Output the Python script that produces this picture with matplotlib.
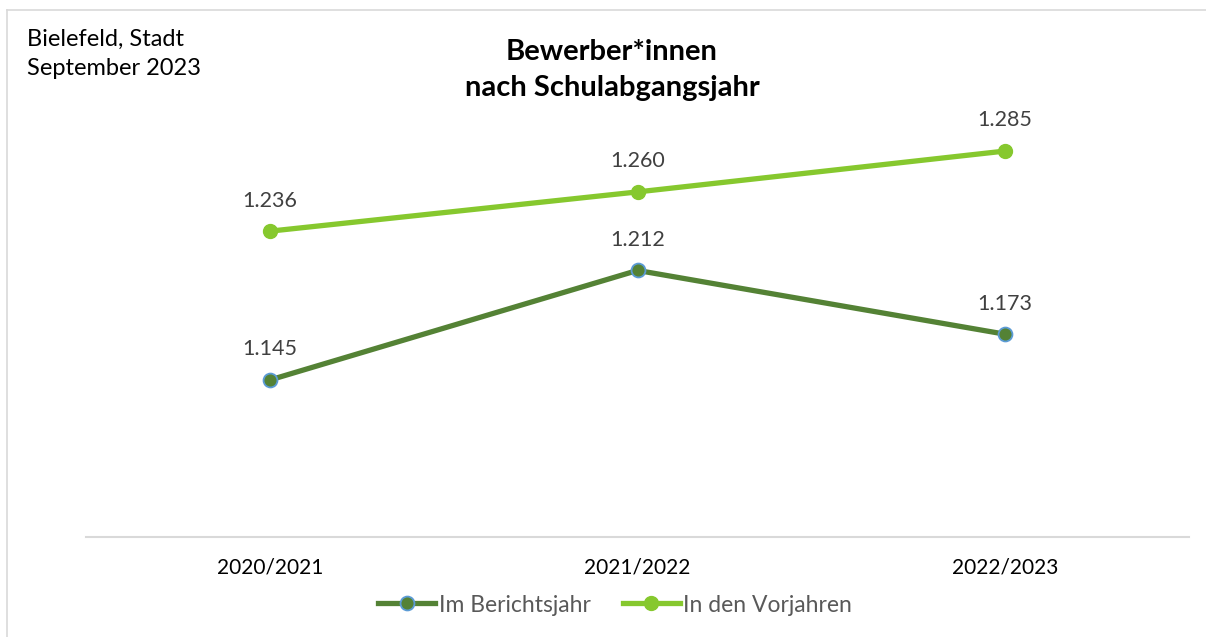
import matplotlib
matplotlib.use("Agg")
import matplotlib.pyplot as plt
from matplotlib.lines import Line2D

categories = ["2020/2021", "2021/2022", "2022/2023"]
berichtsjahr = [1145, 1212, 1173]
vorjahre = [1236, 1260, 1285]
series_names = ["Im Berichtsjahr", "In den Vorjahren"]

plt.rcParams['font.family'] = ['Lato', 'DejaVu Sans']

W, H = 1206, 637
fig = plt.figure(figsize=(W/100, H/100), dpi=100)
fig.patch.set_facecolor("white")

# border lines (top and left)
fig.add_artist(Line2D([7/W, 1], [1-10/H, 1-10/H], color="#D9D9D9", lw=1.2, transform=fig.transFigure))
fig.add_artist(Line2D([7/W, 7/W], [0, 1-10/H], color="#D9D9D9", lw=1.2, transform=fig.transFigure))

ax = fig.add_axes([86/W, (H-537)/H, (1189-86)/W, (537-126.5)/H])
x = list(range(len(categories)))
dark = "#548235"
light = "#86C82E"
ax.plot(x, berichtsjahr, color=dark, lw=3.8, marker="o", markersize=10,
        markerfacecolor=dark, markeredgecolor="#5B9BD5", markeredgewidth=1.3, solid_capstyle="round")
ax.plot(x, vorjahre, color=light, lw=3.8, marker="o", markersize=10,
        markerfacecolor=light, markeredgecolor=light, solid_capstyle="round")

for xi, v in zip(x, berichtsjahr):
    ax.annotate(f"{v/1000:.3f}", (xi, v), xytext=(0, 22), textcoords="offset points",
                ha="center", va="center", fontsize=15.5, color="#404040")
for xi, v in zip(x, vorjahre):
    ax.annotate(f"{v/1000:.3f}", (xi, v), xytext=(0, 22), textcoords="offset points",
                ha="center", va="center", fontsize=15.5, color="#404040")

ax.set_xlim(-0.5, 2.5)
ax.set_ylim(1049, 1300)
ax.set_xticks(x)
ax.set_xticklabels(categories, fontsize=15, color="#000000")
ax.tick_params(axis="x", length=0, pad=15)
ax.set_yticks([])
for s in ["top", "right", "left"]:
    ax.spines[s].set_visible(False)
ax.spines["bottom"].set_color("#D9D9D9")
ax.spines["bottom"].set_linewidth(1.5)

fig.text(612/W, 1-70/H, "Bewerber*innen\nnach Schulabgangsjahr", ha="center", va="center",
         fontsize=21, fontweight="bold", linespacing=1.45)
fig.text(27/W, 1-54/H, "Bielefeld, Stadt\nSeptember 2023", ha="left", va="center",
         fontsize=17, linespacing=1.45)

handles = [
    Line2D([], [], color=dark, lw=3.8, marker="o", markersize=10, markerfacecolor=dark,
           markeredgecolor="#5B9BD5", markeredgewidth=1.3),
    Line2D([], [], color=light, lw=3.8, marker="o", markersize=10, markerfacecolor=light,
           markeredgecolor=light),
]
fig.legend(handles, series_names, loc="center", bbox_to_anchor=(615/W, 1-605/H), ncol=2,
           frameon=False, fontsize=16.5, handlelength=2.5, handletextpad=0.15, columnspacing=1.4,
           labelcolor="#595959")

fig.savefig("out.png", dpi=100, facecolor="white")
